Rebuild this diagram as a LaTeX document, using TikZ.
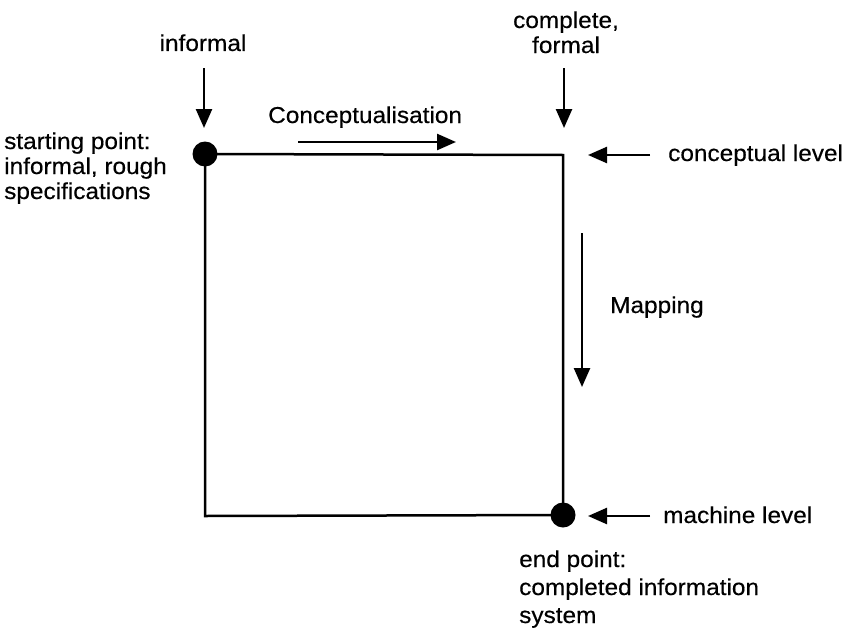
\documentclass[tikz,border=0pt]{standalone}
\usepackage{fontspec}
\setmainfont{Liberation Sans}[FakeStretch=1.06,FakeBold=0.4]
\usetikzlibrary{arrows.meta}
\begin{document}
\begin{tikzpicture}[x=1pt,y=-1pt,
  frame/.style={line width=2.5pt, line join=miter},
  pointer/.style={line width=2.5pt, -{Triangle[length=19pt,width=16pt]}},
  dot/.style={circle, fill=black, inner sep=0pt, minimum size=25pt},
  lbl/.style={inner sep=0pt, font=\fontsize{23}{26}\selectfont, align=left},
  lblc/.style={inner sep=0pt, font=\fontsize{23}{25}\selectfont, align=center}]
\useasboundingbox (0,0) rectangle (861,634);
% corners
\node[dot] (s) at (205,154) {};
\node[dot] (e) at (563,515) {};
\coordinate (tr) at (563,155);
\coordinate (bl) at (205,516);
\draw[frame] (s.center) -- (tr) -- (e.center) -- (bl) -- cycle;
% texts
\node[lblc, anchor=base] (tinf) at (203,51) {informal};
\node[lblc, anchor=base] (tcomp) at (566,53) {complete,\\formal};
\node[lbl, anchor=base west] (tconc) at (268,123) {Conceptualisation};
\node[lbl, anchor=base west] (tcl) at (668,161) {conceptual level};
\node[lbl, anchor=base west] (tmap) at (610,313) {Mapping};
\node[lbl, anchor=base west] (tml) at (663,523) {machine level};
\node[lbl, anchor=base west, font=\fontsize{23}{28}\selectfont] (tend) at (519,623) {end point:\\completed information\\system};
\node[lbl, anchor=base west, font=\fontsize{23}{25}\selectfont] (tstart) at (4,199) {starting point:\\informal, rough\\specifications};
% arrow endpoints
\coordinate (a1s) at (204,68);  \coordinate (a1e) at (204,128);
\coordinate (a2s) at (564,68);  \coordinate (a2e) at (564,128);
\coordinate (a3s) at (298,142); \coordinate (a3e) at (456,142);
\coordinate (a4s) at (650,155); \coordinate (a4e) at (588,155);
\coordinate (a5s) at (582,233); \coordinate (a5e) at (582,387);
\coordinate (a6s) at (650,516); \coordinate (a6e) at (588,516);
\draw[pointer] (a1s) -- (a1e);
\draw[pointer] (a2s) -- (a2e);
\draw[pointer] (a3s) -- (a3e);
\draw[pointer] (a4s) -- (a4e);
\draw[pointer] (a5s) -- (a5e);
\draw[pointer] (a6s) -- (a6e);
\end{tikzpicture}
\end{document}
